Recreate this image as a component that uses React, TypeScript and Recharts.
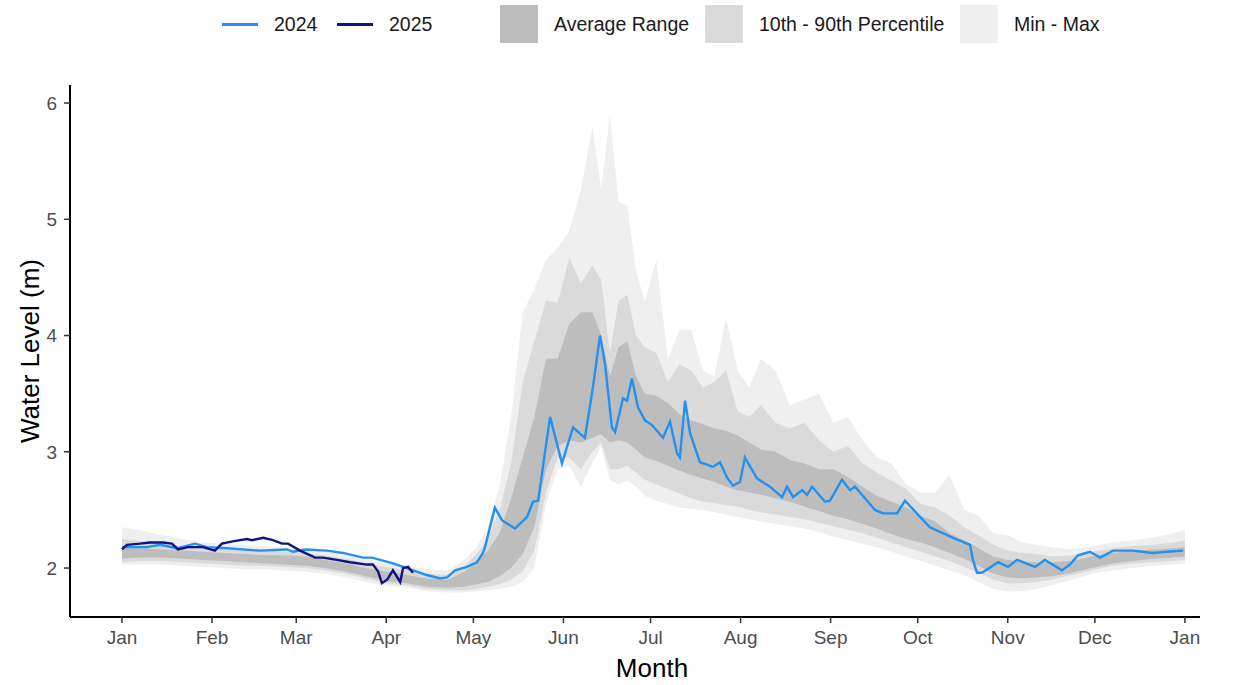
import React from 'react';
import { ComposedChart, Area, Line, XAxis, YAxis, Label } from 'recharts';

// day of year for the historical bands
const bandDays = [
  0, 7, 14, 21, 28, 35, 42, 49, 56, 63, 70, 77, 84, 91, 98, 105, 112, 118, 122, 126,
  130, 134, 138, 142, 146, 150, 154, 158, 162, 165, 168, 171, 174, 177, 180, 184, 188, 192, 196, 200,
  204, 208, 212, 216, 220, 225, 230, 235, 240, 245, 250, 255, 260, 265, 270, 275, 280, 285, 290, 295,
  300, 305, 310, 315, 320, 327, 334, 341, 348, 355, 362, 366,
];
const bandMin = [
  2.03, 2.03, 2.03, 2.02, 2.01, 2.0, 1.99, 1.99, 1.98, 1.97, 1.95, 1.92, 1.88, 1.85, 1.83, 1.8, 1.79, 1.79, 1.8, 1.81,
  1.82, 1.84, 1.88, 2.0, 2.55, 2.85, 2.88, 2.7, 2.9, 3.05, 2.75, 2.72, 2.75, 2.7, 2.62, 2.58, 2.55, 2.52, 2.51, 2.5,
  2.48, 2.46, 2.44, 2.42, 2.4, 2.38, 2.36, 2.34, 2.31, 2.27, 2.24, 2.21, 2.18, 2.14, 2.1, 2.06, 2.02, 1.98, 1.94, 1.88,
  1.82, 1.8, 1.8, 1.82, 1.85, 1.9, 1.95, 1.98, 2.0, 2.02, 2.03, 2.04,
];
const bandP10 = [
  2.05, 2.06, 2.06, 2.05, 2.04, 2.03, 2.02, 2.02, 2.01, 2.0, 1.98, 1.95, 1.91, 1.87, 1.85, 1.82, 1.81, 1.81, 1.82, 1.84,
  1.86, 1.9, 1.97, 2.15, 2.65, 2.95, 2.95, 2.85, 3.0, 3.08, 2.85, 2.85, 2.88, 2.82, 2.76, 2.72, 2.68, 2.64, 2.6, 2.57,
  2.56, 2.54, 2.53, 2.5, 2.48, 2.46, 2.44, 2.42, 2.39, 2.36, 2.33, 2.3, 2.26, 2.22, 2.18, 2.14, 2.1, 2.06, 2.01, 1.96,
  1.9, 1.87, 1.87, 1.88, 1.9, 1.94, 1.98, 2.02, 2.04, 2.05, 2.06, 2.07,
];
const bandAvgLo = [
  2.08, 2.09, 2.09, 2.08, 2.07, 2.06, 2.05, 2.04, 2.03, 2.02, 2.0, 1.97, 1.93, 1.89, 1.87, 1.84, 1.83, 1.84, 1.86, 1.88,
  1.93, 2.0, 2.12, 2.35, 2.85, 3.05, 3.1, 3.08, 3.12, 3.15, 3.08, 3.1, 3.08, 3.02, 2.95, 2.92, 2.88, 2.84, 2.8, 2.77,
  2.74, 2.7, 2.67, 2.65, 2.63, 2.6, 2.57, 2.53, 2.49, 2.45, 2.42, 2.38, 2.34, 2.29, 2.25, 2.22, 2.18, 2.13, 2.08, 2.02,
  1.95, 1.92, 1.91, 1.92, 1.93, 1.96, 2.0, 2.04, 2.06, 2.08, 2.09, 2.1,
];
const bandAvgHi = [
  2.17, 2.17, 2.16, 2.15, 2.14, 2.13, 2.12, 2.11, 2.11, 2.1, 2.07, 2.04, 2.0, 1.97, 1.94, 1.91, 1.9, 1.97, 2.05, 2.15,
  2.3, 2.6, 2.95, 3.3, 3.8, 3.8, 4.1, 4.2, 4.2, 4.0, 3.65, 3.9, 3.95, 3.65, 3.5, 3.48, 3.42, 3.32, 3.27, 3.24,
  3.2, 3.18, 3.14, 3.08, 3.02, 3.0, 2.93, 2.9, 2.85, 2.85, 2.78, 2.7, 2.62, 2.57, 2.52, 2.45, 2.4, 2.3, 2.24, 2.17,
  2.1, 2.07, 2.06, 2.05, 2.05, 2.06, 2.1, 2.13, 2.15, 2.16, 2.17, 2.18,
];
const bandP90 = [
  2.25, 2.23, 2.21, 2.19, 2.18, 2.17, 2.16, 2.15, 2.14, 2.13, 2.11, 2.08, 2.04, 2.01, 1.98, 1.95, 1.94, 2.02, 2.12, 2.25,
  2.5, 2.9, 3.6, 3.95, 4.3, 4.28, 4.67, 4.45, 4.6, 4.48, 3.85, 4.3, 4.35, 4.0, 3.9, 3.85, 3.6, 3.75, 3.7, 3.55,
  3.6, 3.7, 3.35, 3.3, 3.4, 3.25, 3.2, 3.25, 3.1, 3.0, 3.05, 2.9, 2.82, 2.75, 2.68, 2.55, 2.52, 2.45, 2.35, 2.28,
  2.2, 2.15, 2.13, 2.12, 2.1, 2.11, 2.14, 2.17, 2.19, 2.2, 2.22, 2.24,
];
const bandMax = [
  2.35, 2.32, 2.28, 2.25, 2.22, 2.21, 2.2, 2.19, 2.17, 2.16, 2.14, 2.11, 2.08, 2.04, 2.02, 1.99, 1.98, 2.07, 2.18, 2.35,
  2.7, 3.3, 4.2, 4.4, 4.65, 4.75, 4.9, 5.25, 5.8, 5.25, 5.9, 5.15, 5.12, 4.55, 4.3, 4.65, 3.8, 4.05, 4.05, 3.7,
  3.65, 4.15, 3.7, 3.55, 3.8, 3.7, 3.4, 3.45, 3.5, 3.25, 3.3, 3.1, 2.95, 2.9, 2.72, 2.65, 2.65, 2.8, 2.5, 2.45,
  2.3, 2.28, 2.22, 2.2, 2.18, 2.16, 2.19, 2.22, 2.24, 2.26, 2.3, 2.33,
];

const days2024 = [
  0, 8.6, 13.1, 18.9, 25.1, 29.3, 36.2, 47.5, 56.8, 58.9, 63, 70.6, 76.1, 83, 86.1, 93.3, 100.2, 105, 109.5, 111.9,
  114.7, 118.8, 122.2, 124.3, 125, 128.4, 130.9, 135.3, 139.5, 141.5, 143.3, 147.4, 151.5, 155.3, 159.4, 162.2, 164.6, 166.3, 168.7, 169.8,
  172.5, 173.9, 175.6, 177.7, 180.1, 182.5, 186.3, 188.7, 191.1, 192.1, 193.9, 195.6, 199, 201.4, 203.5, 205.9, 208.3, 210.4, 212.8, 214.5,
  218.7, 223.1, 227.3, 229, 231.1, 234.2, 235.9, 237.6, 242.1, 243.8, 247.9, 250.7, 252.4, 259.3, 262, 266.9, 269.6, 274.8, 278.2, 286.2,
  292, 293, 294.4, 296.1, 301.7, 305.1, 308.2, 314.4, 317.8, 323.7, 326.4, 329.2, 333.3, 336.8, 341.3, 348.1, 355, 359.8, 365.4,
];
const level2024 = [
  2.18, 2.18, 2.2, 2.17, 2.21, 2.18, 2.17, 2.15, 2.16, 2.14, 2.16, 2.15, 2.13, 2.09, 2.09, 2.04, 1.98, 1.94, 1.91, 1.92,
  1.98, 2.01, 2.05, 2.13, 2.18, 2.52, 2.41, 2.34, 2.44, 2.57, 2.58, 3.3, 2.9, 3.21, 3.12, 3.56, 4.0, 3.76, 3.21, 3.17,
  3.46, 3.44, 3.63, 3.38, 3.27, 3.23, 3.12, 3.26, 2.99, 2.95, 3.44, 3.16, 2.91, 2.89, 2.87, 2.91, 2.78, 2.71, 2.74, 2.95,
  2.77, 2.7, 2.61, 2.7, 2.61, 2.67, 2.63, 2.7, 2.57, 2.58, 2.76, 2.67, 2.7, 2.5, 2.47, 2.47, 2.58, 2.44, 2.35, 2.26,
  2.2, 2.07, 1.96, 1.96, 2.05, 2.01, 2.07, 2.01, 2.07, 1.98, 2.03, 2.11, 2.14, 2.09, 2.15, 2.15, 2.13, 2.14, 2.15,
];

const days2025 = [
  0, 1.7, 6.2, 9.6, 14.1, 17.2, 19.3, 22.7, 27.9, 32, 34.4, 38.2, 43, 44.8, 48.6, 52, 55.1, 57.2, 61.3, 66.5,
  69.2, 74, 78.5, 84.4, 86.4, 88.2, 89.5, 91.3, 93.3, 95.8, 96.8, 98.5, 100.2,
];
const level2025 = [
  2.16, 2.2, 2.21, 2.22, 2.22, 2.21, 2.16, 2.18, 2.18, 2.15, 2.21, 2.23, 2.25, 2.24, 2.26, 2.24, 2.21, 2.21, 2.15, 2.09,
  2.09, 2.07, 2.05, 2.03, 2.03, 1.97, 1.87, 1.9, 1.98, 1.88, 2.0, 2.01, 1.96,
];

const monthTicks = [0, 31, 60, 91, 121, 152, 182, 213, 244, 274, 305, 335, 366];
const monthLabels = ['Jan', 'Feb', 'Mar', 'Apr', 'May', 'Jun', 'Jul', 'Aug', 'Sep', 'Oct', 'Nov', 'Dec', 'Jan'];
const levelTicks = [2, 3, 4, 5, 6];

const bandData = bandDays.map((day, i) => ({
  day,
  minMax: [bandMin[i], bandMax[i]],
  pct: [bandP10[i], bandP90[i]],
  avg: [bandAvgLo[i], bandAvgHi[i]],
}));
const data2024 = days2024.map((day, i) => ({ day, level: level2024[i] }));
const data2025 = days2025.map((day, i) => ({ day, level: level2025[i] }));

const FONT = '"Liberation Sans", Arial, Helvetica, sans-serif';
const C2024 = '#2391f0';
const C2025 = '#121285';
const AVG = '#bdbdbd';
const PCT = '#dadada';
const MINMAX = '#efefef';

const LegendItem = ({ left, swatch, label }: { left: number; swatch: React.ReactNode; label: string }) => (
  <div style={{ position: 'absolute', left, top: 5, height: 38, display: 'flex', alignItems: 'center' }}>
    {swatch}
    <span style={{ fontSize: 19.5, color: '#1a1a1a', marginLeft: 16 }}>{label}</span>
  </div>
);

const lineKey = (color: string) => <div style={{ width: 36, height: 3, background: color }} />;
const boxKey = (color: string) => <div style={{ width: 38, height: 38, background: color }} />;

const App = () => {
  return (
    <div style={{ position: 'absolute', left: 0, top: 0, width: 1238, height: 685, background: '#fff', fontFamily: FONT }}>
      <LegendItem left={222} swatch={lineKey(C2024)} label="2024" />
      <LegendItem left={337} swatch={lineKey(C2025)} label="2025" />
      <LegendItem left={500} swatch={boxKey(AVG)} label="Average Range" />
      <LegendItem left={705} swatch={boxKey(PCT)} label="10th - 90th Percentile" />
      <LegendItem left={960} swatch={boxKey(MINMAX)} label="Min - Max" />

      <ComposedChart width={1238} height={685} margin={{ top: 85, right: 38, bottom: 4, left: 0 }}>
        <XAxis
          dataKey="day"
          type="number"
          domain={[-17.9, 371.2]}
          allowDataOverflow
          ticks={monthTicks}
          tickFormatter={(v: number) => monthLabels[monthTicks.indexOf(v)]}
          height={64}
          stroke="#000"
          strokeWidth={2}
          tickSize={6}
          tickMargin={8}
          tick={{ fill: '#4d4d4d', fontSize: 19, fontFamily: FONT }}
          tickLine={{ stroke: '#333', strokeWidth: 1.5 }}
        >
          <Label value="Month" position="insideBottom" offset={4} dx={17} style={{ fill: '#000', fontSize: 26, fontFamily: FONT }} />
        </XAxis>
        <YAxis
          type="number"
          domain={[1.579, 6.155]}
          allowDataOverflow
          ticks={levelTicks}
          width={70}
          stroke="#000"
          strokeWidth={2}
          tickSize={6}
          tickMargin={7}
          tick={{ fill: '#4d4d4d', fontSize: 19, fontFamily: FONT }}
          tickLine={{ stroke: '#333', strokeWidth: 1.5 }}
        >
          <Label value="Water Level (m)" angle={-90} position="insideLeft" offset={30} style={{ textAnchor: 'middle', fill: '#000', fontSize: 26, fontFamily: FONT }} />
        </YAxis>
        <Area data={bandData} dataKey="minMax" type="linear" stroke="none" fill={MINMAX} fillOpacity={1} isAnimationActive={false} />
        <Area data={bandData} dataKey="pct" type="linear" stroke="none" fill={PCT} fillOpacity={1} isAnimationActive={false} />
        <Area data={bandData} dataKey="avg" type="linear" stroke="none" fill={AVG} fillOpacity={1} isAnimationActive={false} />
        <Line data={data2024} dataKey="level" type="linear" stroke={C2024} strokeWidth={2.4} dot={false} isAnimationActive={false} />
        <Line data={data2025} dataKey="level" type="linear" stroke={C2025} strokeWidth={2.4} dot={false} isAnimationActive={false} />
      </ComposedChart>
    </div>
  );
};

export default App;
